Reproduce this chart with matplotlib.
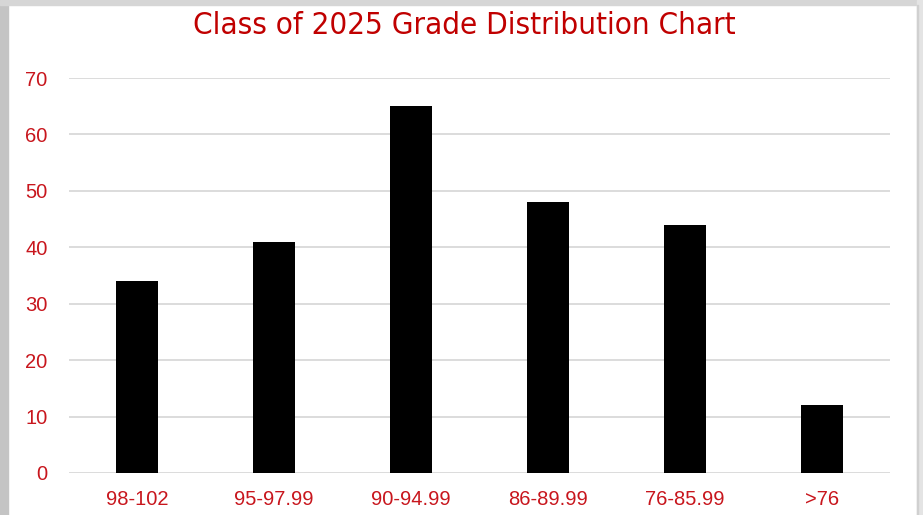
import matplotlib
matplotlib.use("Agg")
from matplotlib import pyplot as plt
from matplotlib.patches import Rectangle

categories = ["98-102", "95-97.99", "90-94.99", "86-89.99", "76-85.99", ">76"]
counts = [34, 41, 65, 48, 44, 12]
yticks = [0, 10, 20, 30, 40, 50, 60, 70]

RED = "#C00000"
W, H = 923, 515


def main():
    fig = plt.figure(figsize=(W / 100, H / 100), dpi=100)
    fig.patch.set_facecolor("white")

    # grey screenshot frame
    fig.patches.append(Rectangle((0, 0), 8 / W, 1, transform=fig.transFigure,
                                 color="#c4c4c4", zorder=0))
    fig.patches.append(Rectangle((0, 1 - 5 / H), 1, 5 / H, transform=fig.transFigure,
                                 color="#d6d6d6", zorder=0))
    fig.patches.append(Rectangle((1 - 6 / W, 0), 6 / W, 1, transform=fig.transFigure,
                                 color="#e4e4e4", zorder=0))
    fig.patches.append(Rectangle((1 - 6 / W, 0), 1 / W, 1 - 5 / H,
                                 transform=fig.transFigure, color="#d0d0d0", zorder=0))

    ax = fig.add_axes([68.5 / W, 42 / H, 822 / W, 395 / H])
    x = range(len(categories))
    ax.bar(x, counts, width=0.31, color="black", zorder=3)
    ax.set_xlim(-0.5, len(categories) - 0.5)
    ax.set_ylim(0, 70)
    ax.set_yticks(yticks)
    ax.set_xticks(list(x))
    ax.set_xticklabels(categories)
    ax.grid(axis="y", color="#d9d9d9", linewidth=1.3, zorder=0)
    for s in ax.spines.values():
        s.set_visible(False)
    ax.tick_params(length=0, colors="#C8161D", labelsize=14.5)
    ax.tick_params(axis="y", pad=15)
    ax.tick_params(axis="x", pad=12)
    for lab in ax.get_xticklabels() + ax.get_yticklabels():
        lab.set_family("Liberation Sans")

    fig.text(464 / W, 1 - 25 / H, "Class of 2025 Grade Distribution Chart",
             ha="center", va="center", color=RED, fontsize=22.5,
             family="DejaVu Sans", stretch="condensed")

    fig.savefig("out.png", dpi=100)


if __name__ == "__main__":
    main()
